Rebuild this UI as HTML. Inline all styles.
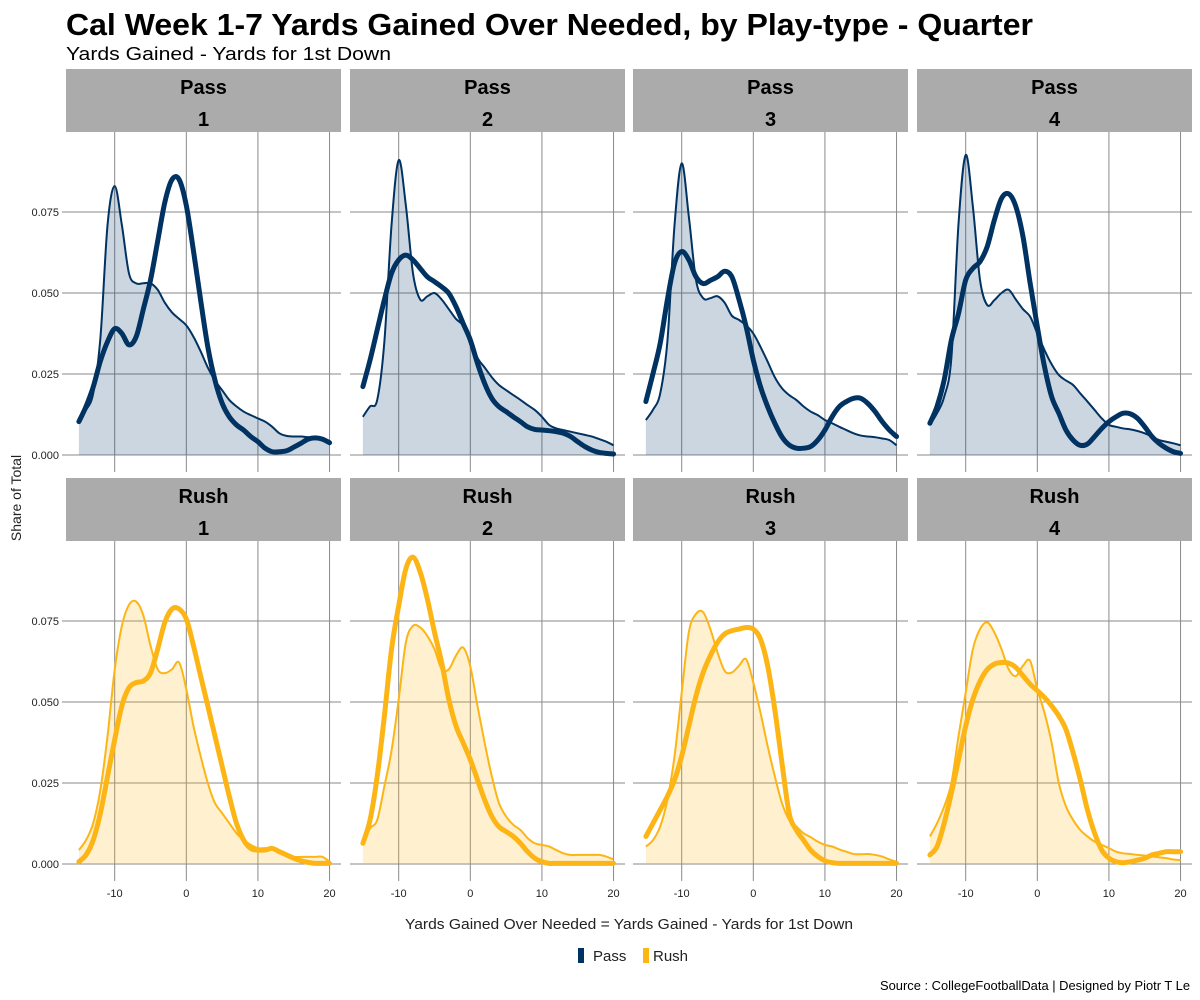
<!DOCTYPE html>
<html><head><meta charset="utf-8"><style>
html,body{margin:0;padding:0;background:#fff;}
svg{display:block;font-family:"Liberation Sans",sans-serif;}
</style></head><body>
<svg id="chart" width="1200" height="1000" viewBox="0 0 1200 1000" xmlns="http://www.w3.org/2000/svg">
<rect x="0" y="0" width="1200" height="1000" fill="#fff"/>
<text x="66" y="35" font-size="31" font-weight="bold" fill="#000" textLength="967" lengthAdjust="spacingAndGlyphs">Cal Week 1-7 Yards Gained Over Needed, by Play-type - Quarter</text>
<text x="66" y="60" font-size="18" fill="#000" textLength="325" lengthAdjust="spacingAndGlyphs">Yards Gained - Yards for 1st Down</text>
<g id="panels"></g>
<text transform="translate(21,498) rotate(-90)" text-anchor="middle" font-size="14" fill="#222">Share of Total</text>
<text x="405" y="929" font-size="15" fill="#222" textLength="448" lengthAdjust="spacingAndGlyphs">Yards Gained Over Needed = Yards Gained - Yards for 1st Down</text>
<g>
<rect x="578" y="948" width="6" height="15" fill="#003262"/>
<text x="593" y="961" font-size="15" fill="#222">Pass</text>
<rect x="643" y="948" width="6" height="15" fill="#FDB515"/>
<text x="653" y="961" font-size="15" fill="#222">Rush</text>
</g>
<text x="880" y="990" font-size="13" fill="#000" textLength="310" lengthAdjust="spacingAndGlyphs">Source : CollegeFootballData | Designed by Piotr T Le</text>
</svg>
<script>
const xs = [-15,-14,-13,-12,-11,-10,-9,-8,-7,-6,-5,-4,-3,-2,-1,0,1,2,3,4,5,6,7,8,9,10,11,12,13,14,15,16,17,18,19,20];
const quarters = ["1","2","3","4"];
const xTicks = [-10,0,10,20];
const yTicks = [0,0.025,0.05,0.075];
const yTickLabels = ["0.000","0.025","0.050","0.075"];
const passThin1 = [.0108,.0139,.019,.036,.071,.083,.071,.056,.053,.053,.053,.051,.047,.044,.042,.040,.0365,.032,.027,.023,.020,.017,.015,.0134,.0123,.0113,.0103,.0087,.0067,.0059,.0057,.0057,.0055,.0053,.0046,.0036];
const passThick1 = [.0103,.015,.021,.029,.035,.039,.0375,.034,.0365,.045,.054,.066,.078,.085,.085,.077,.063,.0478,.0334,.0231,.016,.0118,.0093,.0077,.0057,.0041,.0021,.001,.001,.0013,.0024,.0036,.0049,.0053,.0049,.0038];
const passThin2 = [.0118,.015,.017,.035,.071,.091,.077,.056,.048,.049,.050,.048,.045,.042,.040,.0355,.030,.027,.024,.0216,.020,.0185,.017,.0154,.0139,.0118,.0093,.0082,.0077,.0072,.0067,.0062,.0057,.0049,.0041,.003];
const passThick2 = [.0211,.0293,.0386,.0479,.0561,.0602,.0617,.0602,.0576,.055,.0535,.0519,.0499,.0458,.0406,.0355,.0283,.0221,.0175,.0149,.0134,.0118,.0103,.0087,.0079,.0077,.0075,.0072,.0067,.0057,.0041,.0026,.0015,.0008,.0005,.0003];
const passThin3 = [.0108,.014,.019,.035,.071,.090,.0735,.054,.0484,.0484,.049,.047,.043,.0417,.040,.0375,.0334,.0288,.024,.0206,.0185,.017,.015,.0134,.0123,.0108,.0098,.0087,.0077,.0067,.006,.0057,.0055,.0051,.0046,.003];
const passThick3 = [.0165,.0252,.0345,.0479,.0592,.0628,.0602,.055,.0529,.0539,.055,.0567,.055,.048,.0396,.0293,.0211,.0149,.0098,.0056,.0031,.0021,.0021,.0026,.0046,.0077,.0118,.0149,.0165,.0175,.0175,.0159,.0134,.0103,.0077,.0057];
const passThin4 = [.0093,.0129,.018,.030,.0715,.0926,.0767,.054,.0463,.0478,.050,.051,.048,.045,.0427,.0375,.0324,.028,.0247,.023,.0216,.019,.0165,.0139,.0113,.0093,.0087,.0082,.0079,.0074,.0067,.0057,.0046,.0041,.0036,.003];
const passThick4 = [.0098,.015,.0232,.0355,.0437,.054,.0576,.0597,.0643,.0725,.0792,.0806,.0767,.0674,.053,.0396,.0273,.018,.0129,.0077,.0046,.003,.0034,.0057,.0082,.0103,.0118,.0129,.0127,.0113,.0087,.0057,.0036,.0021,.001,.0005];
const rushThin1 = [.0043,.0074,.0126,.0229,.0395,.060,.0735,.080,.081,.0767,.0674,.0601,.0589,.0601,.0622,.0539,.0426,.0333,.025,.0188,.0157,.0126,.0095,.0074,.0059,.0049,.0049,.0049,.0038,.0028,.0022,.0022,.0022,.0022,.0022,.0007];
const rushThick1 = [.0007,.0028,.0074,.0157,.027,.0384,.0488,.0544,.056,.0565,.059,.0663,.0746,.0787,.0787,.0756,.0674,.058,.0488,.0395,.0302,.0209,.0126,.0074,.0048,.0043,.0043,.0048,.0038,.0028,.0018,.001,.0005,.0002,.0002,.0002];
const rushThin2 = [.0064,.011,.0136,.024,.035,.0508,.0684,.0735,.073,.0704,.0663,.0601,.0601,.0643,.0668,.061,.0488,.0374,.0271,.0188,.0147,.0121,.0105,.008,.0064,.0059,.0054,.0043,.0033,.0028,.0028,.0028,.0028,.0028,.0023,.0014];
const rushThick2 = [.0064,.0136,.0271,.0457,.0663,.0797,.0911,.0947,.0901,.0818,.0715,.0622,.0508,.0426,.0374,.0322,.026,.0198,.0147,.0115,.01,.0085,.0064,.0038,.0018,.0007,.0002,.0002,.0002,.0002,.0002,.0002,.0002,.0002,.0002,.0002];
const rushThin3 = [.0054,.0074,.0116,.0198,.0333,.0529,.0716,.0772,.0777,.0725,.0653,.0596,.0591,.0612,.0632,.0560,.0467,.0364,.0271,.0188,.0136,.0116,.0095,.0083,.0069,.0059,.0054,.0045,.0038,.0031,.003,.0031,.0028,.0023,.0014,.0007];
const rushThick3 = [.0085,.0126,.0167,.0209,.026,.0333,.0426,.0519,.0591,.0643,.0684,.071,.072,.0725,.073,.0725,.0694,.0612,.0477,.0312,.0157,.0105,.0074,.0043,.0023,.001,.0004,.0002,.0002,.0002,.0002,.0002,.0002,.0002,.0002,.0002];
const rushThin4 = [.0085,.0126,.0178,.025,.0395,.0529,.0663,.0725,.0746,.0715,.0663,.0601,.058,.0612,.0627,.0539,.0467,.0374,.025,.0178,.0136,.0105,.0085,.0069,.0059,.0049,.0038,.0033,.0031,.0028,.0026,.0023,.0021,.0018,.0014,.0012];
const rushThick4 = [.0028,.0054,.0126,.0219,.0322,.0426,.0508,.0564,.06,.0617,.0622,.062,.0607,.0581,.0555,.0535,.0514,.0488,.0457,.0415,.0343,.026,.0167,.0095,.0043,.0018,.0007,.0004,.0007,.0012,.0018,.0028,.0033,.0038,.0038,.0038];

const passThin = [passThin1,passThin2,passThin3,passThin4];
const passThick = [passThick1,passThick2,passThick3,passThick4];
const rushThin = [rushThin1,rushThin2,rushThin3,rushThin4];
const rushThick = [rushThick1,rushThick2,rushThick3,rushThick4];

const NS = "http://www.w3.org/2000/svg";
const root = document.getElementById("panels");
const panelLefts = [66, 350, 633, 917];
const panelW = 275;
const xMin = -16.8, xMax = 21.6;
const rows = [
  {type:"Pass", stripTop:69, top:132, bottom:468, zeroY:455, color:"#003262", thin:passThin, thick:passThick},
  {type:"Rush", stripTop:478, top:541, bottom:877, zeroY:864, color:"#FDB515", thin:rushThin, thick:rushThick}
];
const pxPerUnitY = 81/0.025;

function mk(tag, attrs, parent){
  const e = document.createElementNS(NS, tag);
  for (const k in attrs) e.setAttribute(k, attrs[k]);
  parent.appendChild(e);
  return e;
}
function smoothPath(pts){
  let d = "M" + pts[0][0].toFixed(2) + "," + pts[0][1].toFixed(2);
  for (let i=0;i<pts.length-1;i++){
    const p0 = pts[Math.max(0,i-1)], p1 = pts[i], p2 = pts[i+1], p3 = pts[Math.min(pts.length-1,i+2)];
    const c1x = p1[0]+(p2[0]-p0[0])/6, c1y = p1[1]+(p2[1]-p0[1])/6;
    const c2x = p2[0]-(p3[0]-p1[0])/6, c2y = p2[1]-(p3[1]-p1[1])/6;
    d += " C"+c1x.toFixed(2)+","+c1y.toFixed(2)+" "+c2x.toFixed(2)+","+c2y.toFixed(2)+" "+p2[0].toFixed(2)+","+p2[1].toFixed(2);
  }
  return d;
}

rows.forEach((row, ri) => {
  const yScale = v => row.zeroY - v*pxPerUnitY;
  quarters.forEach((q, qi) => {
    const left = panelLefts[qi];
    const xScale = v => left + (v - xMin)/(xMax - xMin)*panelW;
    const g = mk("g", {}, root);
    
    
    const strip = mk("rect", {x:left, y:row.stripTop, width:panelW, height:row.top-row.stripTop, fill:"#ababab"}, g);
    
    
    const t1 = mk("text", {x:left+panelW/2, y:row.stripTop+25, "text-anchor":"middle", "font-size":"20", "font-weight":"bold", fill:"#000"}, g);
    t1.textContent = row.type;
    
    
    const t2 = mk("text", {x:left+panelW/2, y:row.stripTop+57, "text-anchor":"middle", "font-size":"20", "font-weight":"bold", fill:"#000"}, g);
    t2.textContent = q;
    
    
    yTicks.forEach((yt, yi) => {
      const y = yScale(yt);
      const l = mk("line", {x1:left, x2:left+panelW, y1:y, y2:y, stroke:"#8a8a8a", "stroke-width":"1"}, g);
      
      
      if (qi === 0){
        const tk = mk("line", {x1:left-4, x2:left, y1:y, y2:y, stroke:"#8a8a8a", "stroke-width":"1"}, g);
        
        
        const lb = mk("text", {x:left-7, y:y+4, "text-anchor":"end", "font-size":"11", fill:"#222"}, g);
        lb.textContent = yTickLabels[yi];
        
        
      }
    });
    xTicks.forEach(xt => {
      const x = xScale(xt);
      const l = mk("line", {x1:x, x2:x, y1:row.top, y2:row.bottom, stroke:"#8a8a8a", "stroke-width":"1"}, g);
      
      
      const tk = mk("line", {x1:x, x2:x, y1:row.bottom, y2:row.bottom+4, stroke:"#8a8a8a", "stroke-width":"1"}, g);
      
      
      if (ri === 1){
        const lb = mk("text", {x:x, y:row.bottom+20, "text-anchor":"middle", "font-size":"11", fill:"#222"}, g);
        lb.textContent = String(xt);
        
        
      }
    });
    const thinPts = xs.map((xv, i) => [xScale(xv), yScale(row.thin[qi][i])]);
    const thickPts = xs.map((xv, i) => [xScale(xv), yScale(row.thick[qi][i])]);
    const line = smoothPath(thinPts);
    const area = line + " L" + thinPts[thinPts.length-1][0].toFixed(2) + "," + row.zeroY + " L" + thinPts[0][0].toFixed(2) + "," + row.zeroY + " Z";
    const fa = mk("path", {d:area, fill:row.color, "fill-opacity":"0.2", stroke:"none"}, g);
    
    
    const tl = mk("path", {d:line, fill:"none", stroke:row.color, "stroke-width":"2"}, g);
    
    
    const th = mk("path", {d:smoothPath(thickPts), fill:"none", stroke:row.color, "stroke-width":"5", "stroke-linecap":"round", "stroke-linejoin":"round"}, g);
    
    
  });
});
</script>
</body></html>
